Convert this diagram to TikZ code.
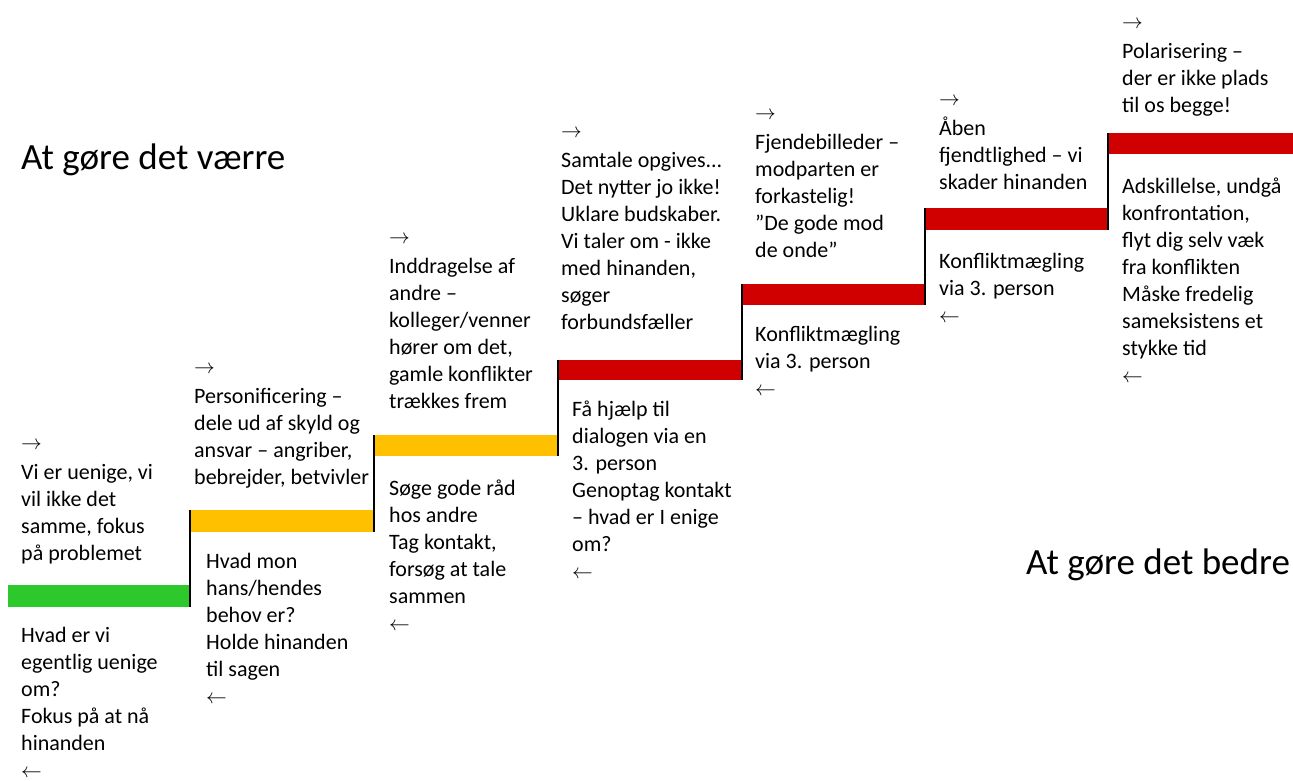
\documentclass[tikz,border=0pt]{standalone}
\usepackage{fontspec}
\setmainfont{Carlito}
\usepackage{tikz}
\usetikzlibrary{backgrounds}
\definecolor{stepgreen}{RGB}{44,200,44}
\definecolor{stepyellow}{RGB}{255,192,0}
\definecolor{stepred}{RGB}{208,0,0}

\begin{document}
\begin{tikzpicture}[x=1pt,y=-1pt,
  steptext/.style={anchor=north west,align=left,inner sep=0pt,font=\fontsize{22}{27}\selectfont},
  bigtitle/.style={anchor=base west,inner sep=0pt,font=\fontsize{37}{44}\selectfont},
  riser/.style={line width=1.5pt,black}]
\useasboundingbox[fill=white] (0,0) rectangle (1293,781);

% the stairs
\fill[stepgreen]  (8,585)    rectangle (190,607);
\fill[stepyellow] (190,510)  rectangle (374,532);
\fill[stepyellow] (374,435)  rectangle (558,456);
\fill[stepred]    (558,360)  rectangle (742,380);
\fill[stepred]    (742,284)  rectangle (925,305);
\fill[stepred]    (925,208)  rectangle (1108,230);
\fill[stepred]    (1108,133) rectangle (1293,154);
\draw[riser] (190,510) -- (190,607);
\draw[riser] (374,435) -- (374,532);
\draw[riser] (558,360) -- (558,456);
\draw[riser] (742,284) -- (742,380);
\draw[riser] (925,208) -- (925,305);
\draw[riser] (1108,133) -- (1108,230);

% headings
\node[bigtitle] (worse) at (21,169) {At gøre det værre};
\node[bigtitle] (better) at (1026,574) {At gøre det bedre};

% step 1
\node[steptext] (up1) at (21,430) {\strut$\rightarrow$\\[3pt]Vi er uenige, vi\\vil ikke det\\samme, fokus\\på problemet};
\node[steptext] (down1) at (21,623) {\strut Hvad er vi\\egentlig uenige\\om?\\Fokus på at nå\\hinanden\\$\leftarrow$};
% step 2
\node[steptext] (up2) at (194,354) {\strut$\rightarrow$\\[3pt]Personificering –\\dele ud af skyld og\\ansvar – angriber,\\bebrejder, betvivler};
\node[steptext] (down2) at (206,549) {\strut Hvad mon\\hans/hendes\\behov er?\\Holde hinanden\\til sagen\\$\leftarrow$};
% step 3
\node[steptext] (up3) at (389,224) {\strut$\rightarrow$\\[3pt]Inddragelse af\\andre –\\kolleger/venner\\hører om det,\\gamle konflikter\\trækkes frem};
\node[steptext] (down3) at (389,476) {\strut Søge gode råd\\hos andre\\Tag kontakt,\\forsøg at tale\\sammen\\$\leftarrow$};
% step 4
\node[steptext] (up4) at (561,118) {\strut$\rightarrow$\\[3pt]Samtale opgives...\\Det nytter jo ikke!\\Uklare budskaber.\\Vi taler om - ikke\\med hinanden,\\søger\\forbundsfæller};
\node[steptext] (down4) at (572,397) {\strut Få hjælp til\\dialogen via en\\3. person\\Genoptag kontakt\\– hvad er I enige\\om?\\$\leftarrow$};
% step 5
\node[steptext] (up5) at (755,100) {\strut$\rightarrow$\\[3pt]Fjendebilleder –\\modparten er\\forkastelig!\\”De gode mod\\de onde”};
\node[steptext] (down5) at (755,322) {\strut Konfliktmægling\\via 3. person\\$\leftarrow$};
% step 6
\node[steptext] (up6) at (939,86) {\strut$\rightarrow$\\[3pt]Åben\\fjendtlighed – vi\\skader hinanden};
\node[steptext] (down6) at (939,249) {\strut Konfliktmægling\\via 3. person\\$\leftarrow$};
% step 7
\node[steptext] (up7) at (1122,9) {\strut$\rightarrow$\\[3pt]Polarisering –\\der er ikke plads\\til os begge!};
\node[steptext] (down7) at (1122,174) {\strut Adskillelse, undgå\\konfrontation,\\flyt dig selv væk\\fra konflikten\\Måske fredelig\\sameksistens et\\stykke tid\\$\leftarrow$};
\end{tikzpicture}
\end{document}
